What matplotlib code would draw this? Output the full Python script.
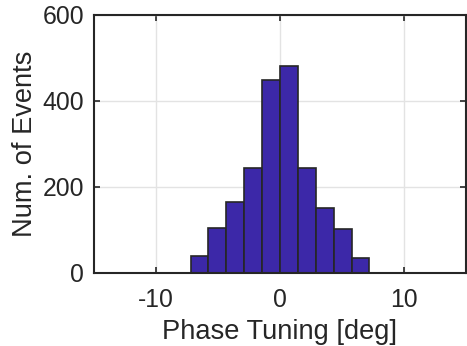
import matplotlib
matplotlib.use('Agg')
import matplotlib.pyplot as plt
import numpy as np

# Histogram data
bin_edges = [-7.2, -5.76, -4.32, -2.88, -1.44, 0.0, 1.44, 2.88, 4.32, 5.76, 7.2]
counts = [40, 104, 165, 245, 448, 480, 245, 150, 102, 35]
x_ticks = [-10, 0, 10]
y_ticks = [0, 200, 400, 600]

plt.rcParams['font.family'] = ['Liberation Sans', 'DejaVu Sans']
plt.rcParams['axes.unicode_minus'] = False

fig = plt.figure(figsize=(4.67, 3.46), dpi=100)
ax = fig.add_axes([0.2006, 0.211, 0.798, 0.7465])

edges = np.array(bin_edges)
ax.bar(edges[:-1], counts, width=np.diff(edges), align='edge',
       color='#3c28a8', edgecolor='#262626', linewidth=1.2, zorder=3)

ax.set_xlim(-15, 15)
ax.set_ylim(0, 600)
ax.set_xticks(x_ticks)
ax.set_yticks(y_ticks)
ax.grid(True, color='#e3e3e3', linewidth=1.0, zorder=0)
ax.set_axisbelow(True)

for s in ax.spines.values():
    s.set_color('#262626')
    s.set_linewidth(1.5)
    s.set_zorder(4)

ax.tick_params(direction='in', length=4, width=1.2, color='#262626',
               top=True, right=True, labelcolor='#262626', labelsize=17.8)
ax.tick_params(axis='x', pad=11)
ax.tick_params(axis='y', pad=7)

ax.set_xlabel('Phase Tuning [deg]', color='#262626', fontsize=19.6, labelpad=5)
ax.set_ylabel('Num. of Events', color='#262626', fontsize=19.6, labelpad=3)

fig.savefig('out.png', dpi=100)
